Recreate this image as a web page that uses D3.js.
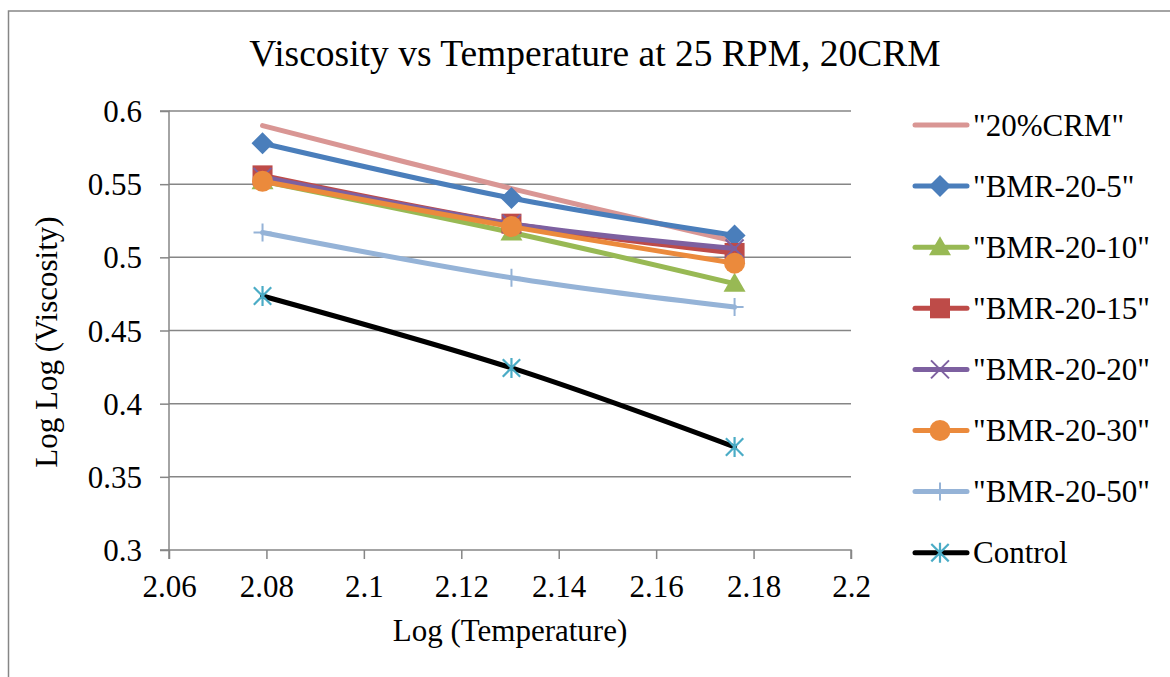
<!DOCTYPE html>
<html>
<head>
<meta charset="utf-8">
<script src="https://cdn.jsdelivr.net/npm/d3@7/dist/d3.min.js"></script>
<style>
  html, body { margin: 0; padding: 0; background: #fff; }
  svg { display: block; }
  text { font-family: "Liberation Serif", "Times New Roman", serif !important; fill: #000; }
</style>
</head>
<body>
<svg id="chart" width="1170" height="677"></svg>
<script>
// ---- data ----
const xValues = [2.0792, 2.1303, 2.1761];
const seriesNames = ['"20%CRM"', '"BMR-20-5"', '"BMR-20-10"', '"BMR-20-15"', '"BMR-20-20"', '"BMR-20-30"', '"BMR-20-50"', 'Control'];
const crm20   = [0.590, 0.547, 0.511];
const bmr5    = [0.578, 0.5405, 0.515];
const bmr10   = [0.552, 0.517, 0.482];
const bmr15   = [0.556, 0.523, 0.503];
const bmr20   = [0.555, 0.523, 0.506];
const bmr30   = [0.552, 0.521, 0.496];
const bmr50   = [0.517, 0.486, 0.466];
const control = [0.4736, 0.4244, 0.3704];
const xTicks = [2.06, 2.08, 2.1, 2.12, 2.14, 2.16, 2.18, 2.2];
const yTicks = [0.3, 0.35, 0.4, 0.45, 0.5, 0.55, 0.6];
const titleText = "Viscosity vs Temperature at 25 RPM, 20CRM";
const xTitle = "Log (Temperature)";
const yTitle = "Log Log (Viscosity)";

// ---- styles ----
const lineColors = ["#D99694", "#4A7EBB", "#98B954", "#BE4B48", "#7D60A0", "#EB8A3C", "#95B3D7", "#000000"];
const markerTypes = ["none", "diamond", "triangle", "square", "x", "circle", "plus", "star"];
const markerColors = ["#D99694", "#4A7EBB", "#98B954", "#BE4B48", "#7D60A0", "#EB8A3C", "#95B3D7", "#4BACC6"];
const seriesValues = [crm20, bmr5, bmr10, bmr15, bmr20, bmr30, bmr50, control];
const serif = '"Liberation Serif", "Times New Roman", serif';

const svg = d3.select("#chart");
svg.append("rect").attr("width", 1170).attr("height", 677).attr("fill", "#fff");
// outer frame
svg.append("path").attr("d", "M8.5,677 L8.5,11 L1170,11").attr("fill", "none")
  .attr("stroke", "#868686").attr("stroke-width", 1.5);

const plot = { left: 169, right: 851, top: 111, bottom: 550 };
const x = d3.scaleLinear().domain([2.06, 2.2]).range([plot.left, plot.right]);
const y = d3.scaleLinear().domain([0.3, 0.6]).range([plot.bottom, plot.top]);
const gridColor = "#868686";

// gridlines
svg.append("g").selectAll("line").data(yTicks.filter(d => d > 0.3)).join("line")
  .attr("x1", plot.left).attr("x2", plot.right)
  .attr("y1", d => y(d)).attr("y2", d => y(d))
  .attr("stroke", gridColor).attr("stroke-width", 1.5);

// axes
const yAxis = d3.axisLeft(y).tickValues(yTicks).tickSize(9).tickPadding(18).tickFormat(d => String(+d.toFixed(2)));
const gy = svg.append("g").attr("transform", `translate(${plot.left},0)`).call(yAxis);
const xAxis = d3.axisBottom(x).tickValues(xTicks).tickSize(9).tickPadding(15).tickFormat(d => String(+d.toFixed(2)));
const gx = svg.append("g").attr("transform", `translate(0,${plot.bottom})`).call(xAxis);
[gx, gy].forEach(g => {
  g.attr("font-family", serif);
  g.select(".domain").attr("stroke", gridColor).attr("stroke-width", 1.5);
  g.selectAll(".tick line").attr("stroke", gridColor).attr("stroke-width", 1.5);
  g.selectAll(".tick text").style("font-family", serif).attr("font-size", 31).attr("fill", "#000");
});
gy.select(".domain").attr("d", `M-9,${plot.top}H0V${plot.bottom}H-9`);
gx.select(".domain").attr("d", `M${plot.left},9V0H${plot.right}V9`);
gy.selectAll(".tick text").attr("dy", "0.34em");
gx.selectAll(".tick text").attr("dy", "0.75em");

// titles
svg.append("text").attr("x", 595).attr("y", 66).attr("text-anchor", "middle")
  .style("font-family", serif).attr("font-size", 37.5).text(titleText);
svg.append("text").attr("x", 510).attr("y", 641).attr("text-anchor", "middle")
  .style("font-family", serif).attr("font-size", 31).text(xTitle);
svg.append("text").attr("transform", "translate(57,342) rotate(-90)").attr("text-anchor", "middle")
  .style("font-family", serif).attr("font-size", 31).text(yTitle);

// markers
function drawMarker(g, type, color) {
  switch (type) {
    case "diamond":
      g.append("path").attr("d", "M0,-11L11,0L0,11L-11,0Z").attr("fill", color); break;
    case "triangle":
      g.append("path").attr("d", "M0,-11L11,8L-11,8Z").attr("fill", color); break;
    case "square":
      g.append("rect").attr("x", -10).attr("y", -10).attr("width", 20).attr("height", 20).attr("fill", color); break;
    case "circle":
      g.append("circle").attr("r", 10.5).attr("fill", color); break;
    case "x":
      g.append("path").attr("d", "M-9,-9L9,9M-9,9L9,-9").attr("stroke", color).attr("stroke-width", 2).attr("fill", "none"); break;
    case "plus":
      g.append("path").attr("d", "M-9,0L9,0M0,-9L0,9").attr("stroke", color).attr("stroke-width", 2).attr("fill", "none"); break;
    case "star":
      g.append("path").attr("d", "M0,-10L0,10M-8.7,-8.7L8.7,8.7M-8.7,8.7L8.7,-8.7").attr("stroke", color).attr("stroke-width", 2.2).attr("fill", "none"); break;
  }
}

const line = d3.line().x(d => x(d[0])).y(d => y(d[1])).curve(d3.curveCardinal.tension(0));
seriesValues.forEach((vals, i) => {
  const pts = vals.map((v, j) => [xValues[j], v]);
  const g = svg.append("g");
  g.append("path").attr("d", line(pts)).attr("fill", "none")
    .attr("stroke", lineColors[i]).attr("stroke-width", 5)
    .attr("stroke-linecap", "round").attr("stroke-linejoin", "round");
  pts.forEach(p => {
    const mg = g.append("g").attr("transform", `translate(${x(p[0])},${y(p[1])})`);
    drawMarker(mg, markerTypes[i], markerColors[i]);
  });
});

// legend
const legend = svg.append("g");
seriesNames.forEach((name, i) => {
  const cy = 125 + i * 61.1;
  const lg = legend.append("g").attr("transform", `translate(0,${cy})`);
  lg.append("line").attr("x1", 915).attr("x2", 967).attr("y1", 0).attr("y2", 0)
    .attr("stroke", lineColors[i]).attr("stroke-width", 5).attr("stroke-linecap", "round");
  const mg = lg.append("g").attr("transform", "translate(940,0)");
  drawMarker(mg, markerTypes[i], markerColors[i]);
  lg.append("text").attr("x", 973).attr("y", 10.5).style("font-family", serif).attr("font-size", 31).text(name);
});
</script>
</body>
</html>
